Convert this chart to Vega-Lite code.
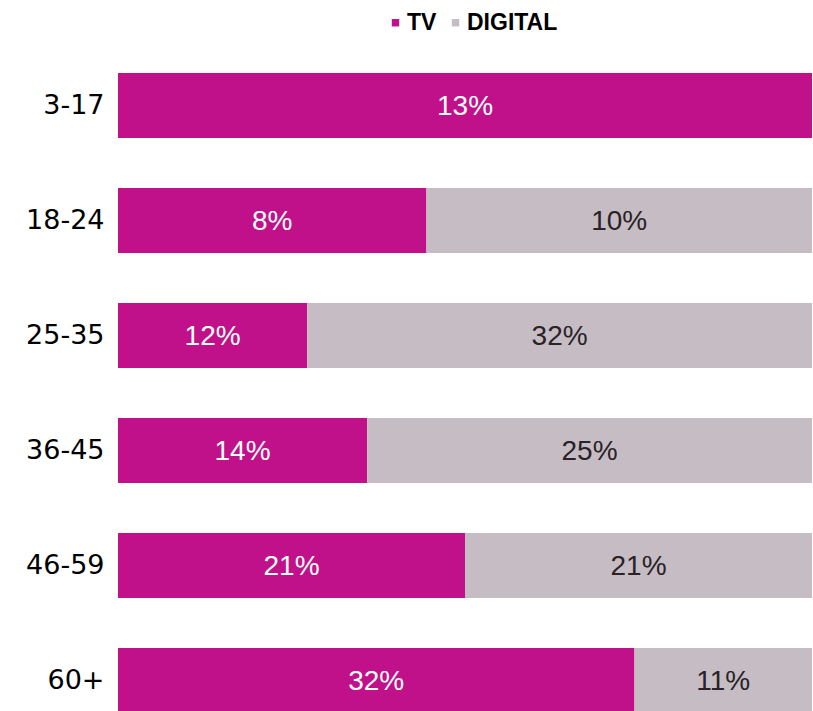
{
  "$schema": "https://vega.github.io/schema/vega-lite/v6.json",
  "autosize": "none",
  "width": 694,
  "height": 690,
  "padding": {"left": 118, "top": 48, "right": 1, "bottom": 0},
  "background": "white",
  "config": {"view": {"stroke": null}},
  "data": {"values": [
    {"age": "3-17", "series": "TV", "value": 13},
    {"age": "3-17", "series": "DIGITAL", "value": 0},
    {"age": "18-24", "series": "TV", "value": 8},
    {"age": "18-24", "series": "DIGITAL", "value": 10},
    {"age": "25-35", "series": "TV", "value": 12},
    {"age": "25-35", "series": "DIGITAL", "value": 32},
    {"age": "36-45", "series": "TV", "value": 14},
    {"age": "36-45", "series": "DIGITAL", "value": 25},
    {"age": "46-59", "series": "TV", "value": 21},
    {"age": "46-59", "series": "DIGITAL", "value": 21},
    {"age": "60+", "series": "TV", "value": 32},
    {"age": "60+", "series": "DIGITAL", "value": 11}
  ]},
  "transform": [
    {"stack": "value", "groupby": ["age"], "sort": [{"field": "series", "order": "descending"}], "offset": "normalize", "as": ["x0", "x1"]},
    {"calculate": "(datum.x0 + datum.x1) / 2", "as": "xm"},
    {"calculate": "datum.value + '%'", "as": "lbl"}
  ],
  "encoding": {
    "y": {
      "field": "age", "type": "nominal",
      "sort": ["3-17", "18-24", "25-35", "36-45", "46-59", "60+"],
      "scale": {"paddingInner": 0.435, "paddingOuter": 0.2175},
      "axis": {"title": null, "domain": false, "ticks": false, "labelFont": "DejaVu Sans", "labelFontSize": 27, "labelColor": "#000000", "labelPadding": 14}
    }
  },
  "layer": [
    {
      "mark": {"type": "bar"},
      "encoding": {
        "x": {"field": "x0", "type": "quantitative", "scale": {"domain": [0, 1], "nice": false}, "axis": null},
        "x2": {"field": "x1"},
        "color": {
          "field": "series", "type": "nominal",
          "scale": {"domain": ["TV", "DIGITAL"], "range": ["#C0118A", "#C5BDC3"]},
          "legend": {
            "title": null, "orient": "none", "direction": "horizontal",
            "legendX": 266, "legendY": -37,
            "symbolType": "square", "symbolSize": 55, "symbolStrokeWidth": 0,
            "labelFont": "Liberation Sans", "labelFontWeight": "bold", "labelFontSize": 23,
            "labelColor": "#000000", "labelOffset": 0, "columnPadding": 7
          }
        }
      }
    },
    {
      "transform": [{"filter": "datum.value > 0"}],
      "mark": {"type": "text", "font": "Liberation Sans", "fontSize": 28, "align": "center", "baseline": "middle", "dy": 1},
      "encoding": {
        "x": {"field": "xm", "type": "quantitative"},
        "text": {"field": "lbl"},
        "color": {
          "condition": {"test": "datum.series == 'TV'", "value": "#FFFFFF"},
          "value": "#2A2226"
        }
      }
    }
  ]
}
